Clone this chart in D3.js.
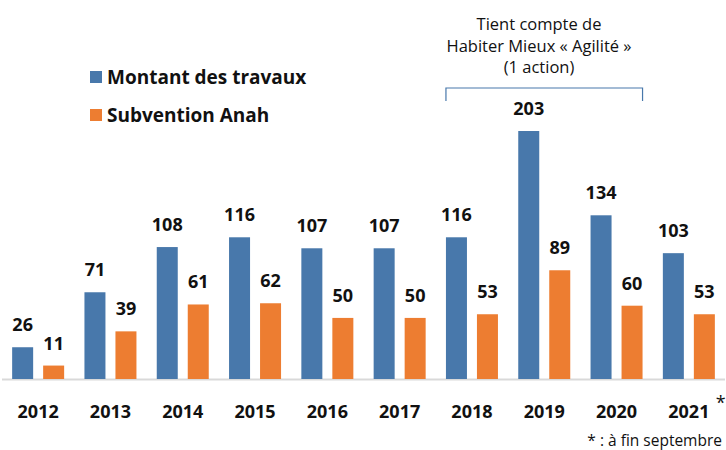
<!DOCTYPE html>
<meta charset="utf-8">
<head>
    <script src="https://d3js.org/d3.v7.min.js"></script>
    <style>
    body { margin: 0; background: #fff; }
    svg { font-family: "Open Sans", sans-serif; }
    .val, .year { font-weight: bold; font-size: 18px; fill: #111; }
    </style>
</head>
<body>
<script>

// data
var years = ["2012", "2013", "2014", "2015", "2016", "2017", "2018", "2019", "2020", "2021"];
var travaux = [26, 71, 108, 116, 107, 107, 116, 203, 134, 103];
var subvention = [11, 39, 61, 62, 50, 50, 53, 89, 60, 53];
var seriesNames = ["Montant des travaux", "Subvention Anah"];
var colors = ["#4878ab", "#ed7d31"];

var width = 726, height = 450;
var baseY = 379;

var svg = d3.select("body").append("svg")
    .attr("width", width)
    .attr("height", height);

var x = d3.scaleBand().domain(years).range([2, 725]);
var xs = d3.scaleBand().domain(seriesNames).range([-26, 26]).paddingInner(10 / 31);
var y = d3.scaleLinear().domain([0, 203]).range([baseY, 131]);

var rows = years.map(function(yr, i) {
  return {year: yr, values: [travaux[i], subvention[i]]};
});

// axis line
svg.append("line")
    .attr("x1", 2).attr("x2", 725)
    .attr("y1", baseY + 0.5).attr("y2", baseY + 0.5)
    .style("stroke", "#d9d9d9")
    .style("stroke-width", 2);

var g = svg.selectAll(".grp")
    .data(rows)
  .enter().append("g")
    .attr("transform", function(d) { return "translate(" + (x(d.year) + x.bandwidth() / 2) + ",0)"; });

g.selectAll("rect")
    .data(function(d) { return d.values.map(function(v, j) { return {v: v, s: seriesNames[j], j: j}; }); })
  .enter().append("rect")
    .attr("x", function(d) { return xs(d.s); })
    .attr("width", xs.bandwidth())
    .attr("y", function(d) { return y(d.v); })
    .attr("height", function(d) { return baseY - y(d.v); })
    .style("fill", function(d) { return colors[d.j]; });

g.selectAll(".val")
    .data(function(d) { return d.values.map(function(v, j) { return {v: v, s: seriesNames[j]}; }); })
  .enter().append("text")
    .attr("class", "val")
    .attr("x", function(d) { return xs(d.s) + xs.bandwidth() / 2; })
    .attr("y", function(d) { return y(d.v) - 16; })
    .style("text-anchor", "middle")
    .text(function(d) { return d.v; });

// year labels
svg.append("g").selectAll(".year")
    .data(years)
  .enter().append("text")
    .attr("class", "year")
    .attr("x", function(d) { return x(d) + x.bandwidth() / 2; })
    .attr("y", 418)
    .style("text-anchor", "middle")
    .text(function(d) { return d; });

// asterisk on 2021
svg.append("text")
    .attr("x", x("2021") + x.bandwidth() / 2 + 27)
    .attr("y", 409)
    .style("font-size", "18px")
    .style("fill", "#111")
    .text("*");

// footnote
svg.append("text")
    .attr("x", 722)
    .attr("y", 446)
    .style("text-anchor", "end")
    .style("font-size", "15.5px")
    .style("fill", "#111")
    .text("* : à fin septembre");

// legend
var legend = svg.selectAll(".legend")
    .data(seriesNames)
  .enter().append("g")
    .attr("transform", function(d, i) { return "translate(90," + (71 + i * 38) + ")"; });

legend.append("rect")
    .attr("width", 12).attr("height", 12)
    .style("fill", function(d, i) { return colors[i]; });

legend.append("text")
    .attr("x", 17)
    .attr("y", 12.5)
    .style("font-size", "19px")
    .style("font-weight", "bold")
    .style("fill", "#111")
    .text(function(d) { return d; });

// annotation bracket
var bx1 = x("2018") + x.bandwidth() / 2 - 26,
    bx2 = x("2020") + x.bandwidth() / 2 + 26;
svg.append("path")
    .attr("d", "M" + bx1 + ",101V88H" + bx2 + "V101")
    .style("fill", "none")
    .style("stroke", "#4878ab")
    .style("stroke-width", 1.2);

var note = ["Tient compte de", "Habiter Mieux « Agilité »", "(1 action)"];
svg.selectAll(".note")
    .data(note)
  .enter().append("text")
    .attr("x", 539)
    .attr("y", function(d, i) { return 30 + i * 21.5; })
    .style("text-anchor", "middle")
    .style("font-size", "16.5px")
    .style("fill", "#111")
    .text(function(d) { return d; });

</script>
</body>
